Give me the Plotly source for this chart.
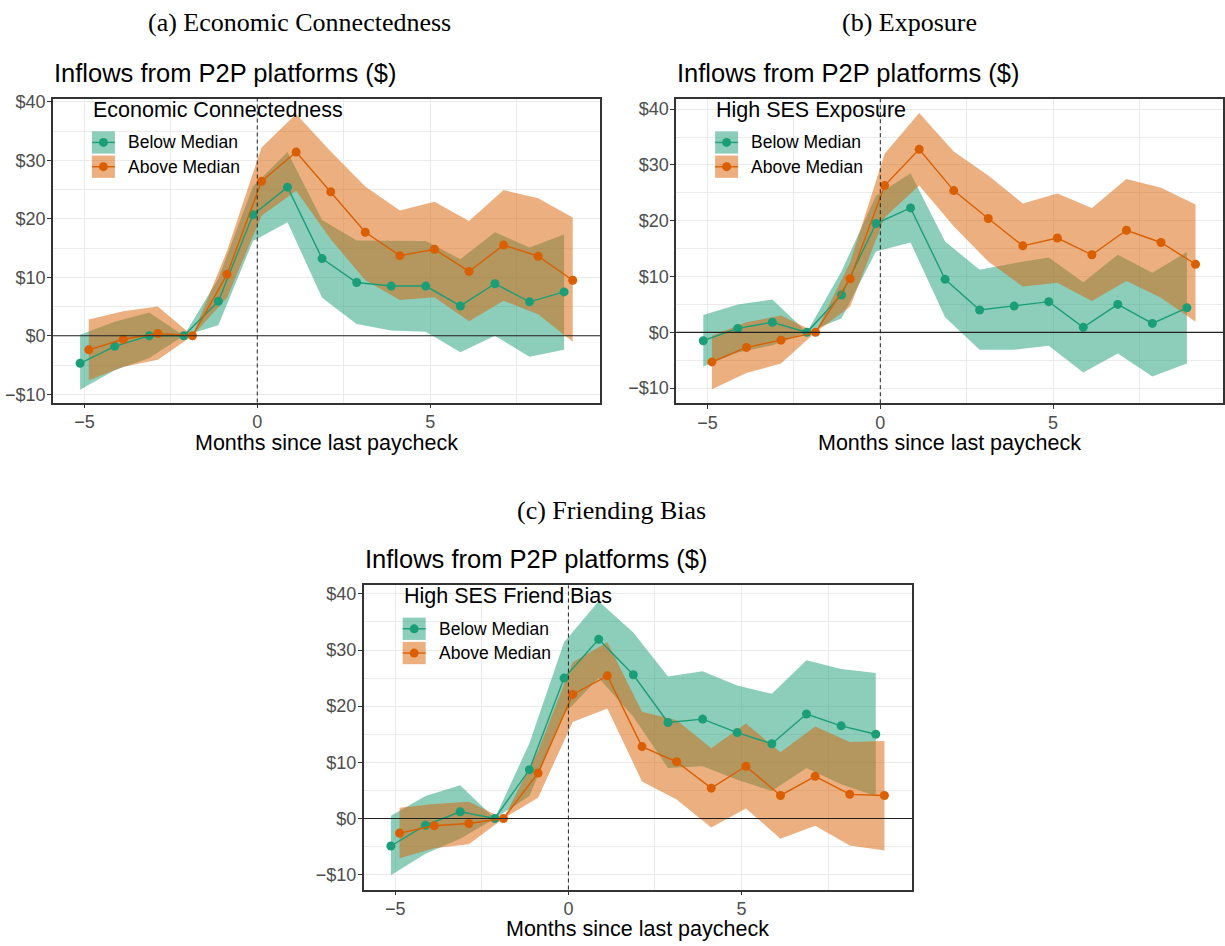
import plotly.graph_objects as go

W, H = 1225, 946

# ---------------- data ----------------
months = list(range(-5, 10))

# (a) Economic Connectedness
A_below = [-4.7, -1.8, 0.0, 0.0, 5.9, 20.7, 25.4, 13.2, 9.1, 8.5, 8.5, 5.1, 8.9, 5.8, 7.5]
A_below_lo = [-9.2, -5.9, -3.8, 0.0, 1.8, 16.2, 19.4, 6.5, 2.0, 0.9, 0.7, -2.8, 0.0, -3.6, -2.4]
A_below_hi = [0.2, 2.4, 4.0, 0.0, 9.8, 25.5, 31.4, 19.8, 16.3, 16.2, 16.2, 13.1, 17.7, 15.1, 17.3]
A_above = [-2.4, -0.6, 0.4, 0.0, 10.5, 26.4, 31.4, 24.6, 17.7, 13.7, 14.8, 11.0, 15.5, 13.6, 9.5]
A_above_lo = [-7.6, -5.3, -4.1, 0.0, 6.5, 20.5, 24.8, 16.5, 9.5, 6.1, 6.6, 2.5, 6.0, 3.7, -1.0]
A_above_hi = [2.8, 4.2, 5.0, 0.0, 14.5, 32.2, 37.9, 31.5, 25.5, 21.4, 22.9, 19.6, 24.9, 23.5, 20.2]

# (b) Exposure
B_below = [-1.5, 0.7, 1.8, 0.0, 6.7, 19.5, 22.3, 9.5, 4.0, 4.7, 5.5, 0.9, 5.0, 1.6, 4.4]
B_below_lo = [-6.1, -3.6, -2.3, 0.0, 2.5, 14.5, 16.1, 2.7, -3.1, -3.1, -2.4, -7.2, -3.8, -7.9, -5.6]
B_below_hi = [3.1, 5.0, 5.9, 0.0, 10.9, 24.5, 28.5, 16.3, 11.2, 12.4, 13.4, 9.0, 13.9, 10.7, 14.4]
B_above = [-5.3, -2.7, -1.4, 0.0, 9.6, 26.3, 32.8, 25.4, 20.4, 15.5, 16.9, 13.9, 18.3, 16.1, 12.2]
B_above_lo = [-10.2, -7.3, -5.6, 0.0, 4.6, 20.6, 26.3, 19.0, 12.7, 8.2, 8.9, 5.6, 9.2, 6.2, 1.9]
B_above_hi = [-0.6, 1.8, 3.0, 0.0, 12.5, 32.0, 39.3, 32.4, 28.1, 23.1, 24.9, 22.3, 27.5, 25.9, 22.9]

# (c) Friending Bias
C_below = [-4.9, -1.2, 1.2, 0.0, 8.7, 25.0, 31.9, 25.6, 17.1, 17.7, 15.3, 13.3, 18.6, 16.5, 15.0]
C_below_lo = [-10.1, -6.3, -3.6, 0.0, 4.0, 18.6, 25.0, 18.1, 9.0, 9.3, 6.9, 4.9, 9.0, 6.1, 4.0]
C_below_hi = [0.5, 4.0, 5.9, 0.0, 13.4, 31.4, 38.7, 33.1, 25.3, 26.2, 23.7, 22.2, 28.2, 26.6, 25.9]
C_above = [-2.6, -1.3, -0.9, 0.0, 8.1, 22.1, 25.4, 12.8, 10.1, 5.4, 9.3, 4.1, 7.5, 4.3, 4.1]
C_above_lo = [-7.1, -5.3, -4.6, 0.0, 3.7, 17.2, 19.6, 6.6, 3.4, -1.6, 1.8, -3.6, -1.3, -4.8, -5.7]
C_above_hi = [1.9, 2.6, 3.0, 0.0, 12.0, 27.8, 31.4, 19.0, 17.5, 12.5, 16.9, 11.8, 16.4, 13.6, 13.8]

group_names = ["Below Median", "Above Median"]
y_tickvals = [-10, 0, 10, 20, 30, 40]
y_ticktext = ["\u2212$10", "$0", "$10", "$20", "$30", "$40"]
x_tickvals = [-5, 0, 5]

# ---------------- style ----------------
GREEN = "#1B9E77"
ORANGE = "#D95F02"
GREEN_FILL = "rgba(27,158,119,0.5)"
ORANGE_FILL = "rgba(217,95,2,0.5)"
SANS = "Liberation Sans, Arial, Helvetica, sans-serif"
SERIF = "Liberation Serif, Times New Roman, serif"
DODGE = 0.125


def px(xp):
    return xp / W


def py(yp):
    return 1 - yp / H


panels = [
    dict(sfx="", box=(53, 600.7, 93, 399.3), yr=[-11.4, 40.45],
         caption="(a) Economic Connectedness", cap=(300, 16),
         title_y=67, xtitle_y=440, leg_title="Economic Connectedness",
         data=(A_below, A_below_lo, A_below_hi, A_above, A_above_lo, A_above_hi)),
    dict(sfx="2", box=(676.7, 1224, 93, 400), yr=[-12.7, 41.8],
         caption="(b) Exposure", cap=(910, 16),
         title_y=67, xtitle_y=440, leg_title="High SES Exposure",
         data=(B_below, B_below_lo, B_below_hi, B_above, B_above_lo, B_above_hi)),
    dict(sfx="3", box=(364, 912.7, 584, 891), yr=[-12.65, 41.5],
         caption="(c) Friending Bias", cap=(612, 508),
         title_y=557, xtitle_y=931, leg_title="High SES Friend Bias",
         data=(C_below, C_below_lo, C_below_hi, C_above, C_above_lo, C_above_hi)),
]

fig = go.Figure()
annotations = []
shapes = []
layout_axes = {}

for p in panels:
    xa = "x" + p["sfx"]
    ya = "y" + p["sfx"]
    l, r, t, b = p["box"]
    mid, lo_g, hi_g, mid_o, lo_o, hi_o = p["data"]
    series = [
        (mid, lo_g, hi_g, -DODGE, GREEN, GREEN_FILL),
        (mid_o, lo_o, hi_o, DODGE, ORANGE, ORANGE_FILL),
    ]
    # ribbons
    for (m, lo, hi, off, col, fcol) in series:
        xs = [v + off for v in months]
        fig.add_trace(go.Scatter(
            x=xs + xs[::-1], y=hi + lo[::-1], fill="toself", fillcolor=fcol,
            line=dict(width=0), mode="lines", hoverinfo="skip",
            showlegend=False, xaxis=xa, yaxis=ya))
    # lines + points
    for i, (m, lo, hi, off, col, fcol) in enumerate(series):
        xs = [v + off for v in months]
        fig.add_trace(go.Scatter(
            x=xs, y=m, mode="lines+markers", name=group_names[i],
            line=dict(color=col, width=1.4), marker=dict(color=col, size=9),
            showlegend=False, xaxis=xa, yaxis=ya))

    axis_common = dict(
        showline=True, linecolor="#333333", linewidth=1.6, mirror=True,
        ticks="outside", ticklen=4, tickwidth=1.3, tickcolor="#333333",
        showgrid=True, gridcolor="#EBEBEB", gridwidth=1.4, zeroline=False,
        tickfont=dict(family=SANS, size=18, color="#4D4D4D"),
        ticklabelstandoff=-2,
    )
    layout_axes["xaxis" + p["sfx"]] = dict(
        axis_common, domain=[px(l), px(r)], anchor=ya, range=[-5.91, 9.92],
        tickmode="array", tickvals=x_tickvals,
        minor=dict(tickvals=[-2.5, 2.5, 7.5], showgrid=True,
                   gridcolor="#EBEBEB", gridwidth=0.8, ticks=""))
    layout_axes["yaxis" + p["sfx"]] = dict(
        axis_common, domain=[py(b), py(t)], anchor=xa, range=p["yr"],
        tickmode="array", tickvals=y_tickvals, ticktext=y_ticktext,
        minor=dict(tickvals=[-5, 5, 15, 25, 35], showgrid=True,
                   gridcolor="#EBEBEB", gridwidth=0.8, ticks=""))

    # reference lines
    shapes.append(dict(type="line", xref=xa + " domain", yref=ya, x0=0, x1=1, y0=0, y1=0,
                       line=dict(color="#222222", width=1.1), layer="above"))
    shapes.append(dict(type="line", xref=xa, yref=ya + " domain", x0=0, x1=0, y0=0, y1=1,
                       line=dict(color="#222222", width=1, dash="4px,3px"), layer="above"))

    # captions and titles
    annotations.append(dict(text=p["caption"], x=px(p["cap"][0]), y=py(p["cap"][1]),
                            xref="paper", yref="paper", xanchor="center", yanchor="middle",
                            showarrow=False, font=dict(family=SERIF, size=26, color="#000000")))
    annotations.append(dict(text="Inflows from P2P platforms ($)", x=px(l - 1), y=py(p["title_y"]),
                            xref="paper", yref="paper", xanchor="left", yanchor="middle",
                            showarrow=False, font=dict(family=SANS, size=25.5, color="#000000")))
    annotations.append(dict(text="Months since last paycheck", x=px((l + r) / 2), y=py(p["xtitle_y"]),
                            xref="paper", yref="paper", xanchor="center", yanchor="middle",
                            showarrow=False, font=dict(family=SANS, size=21.5, color="#000000")))

    # legend (inside panel, ggplot-style keys)
    lx = l + 39
    annotations.append(dict(text=p["leg_title"], x=px(lx - 1), y=py(t + 11),
                            xref="paper", yref="paper", xanchor="left", yanchor="middle",
                            showarrow=False, font=dict(family=SANS, size=21.5, color="#000000")))
    keys = [(GREEN, GREEN_FILL, t + 32.5), (ORANGE, ORANGE_FILL, t + 57)]
    for i, (col, fcol, ky) in enumerate(keys):
        shapes.append(dict(type="rect", xref="paper", yref="paper",
                           x0=px(lx), x1=px(lx + 23), y0=py(ky + 22.5), y1=py(ky),
                           fillcolor=fcol, line=dict(width=0), layer="above"))
        cy = ky + 11.25
        shapes.append(dict(type="line", xref="paper", yref="paper",
                           x0=px(lx), x1=px(lx + 23), y0=py(cy), y1=py(cy),
                           line=dict(color=col, width=1.4), layer="above"))
        shapes.append(dict(type="circle", xref="paper", yref="paper",
                           x0=px(lx + 11.5 - 4.5), x1=px(lx + 11.5 + 4.5),
                           y0=py(cy + 4.5), y1=py(cy - 4.5),
                           fillcolor=col, line=dict(width=0), layer="above"))
        annotations.append(dict(text=group_names[i], x=px(lx + 34), y=py(cy),
                                xref="paper", yref="paper", xanchor="left", yanchor="middle",
                                showarrow=False, font=dict(family=SANS, size=17.5, color="#000000")))

fig.update_layout(
    width=W, height=H, autosize=False,
    margin=dict(l=0, r=0, t=0, b=0, pad=0),
    paper_bgcolor="white", plot_bgcolor="white",
    showlegend=False,
    annotations=annotations, shapes=shapes,
    font=dict(family=SANS),
    **layout_axes,
)

fig.write_html(
    "out.html",
    config={"displayModeBar": False},
    post_script="document.body.style.margin='0';document.body.style.padding='0';"
                "document.body.style.overflow='hidden';",
)
